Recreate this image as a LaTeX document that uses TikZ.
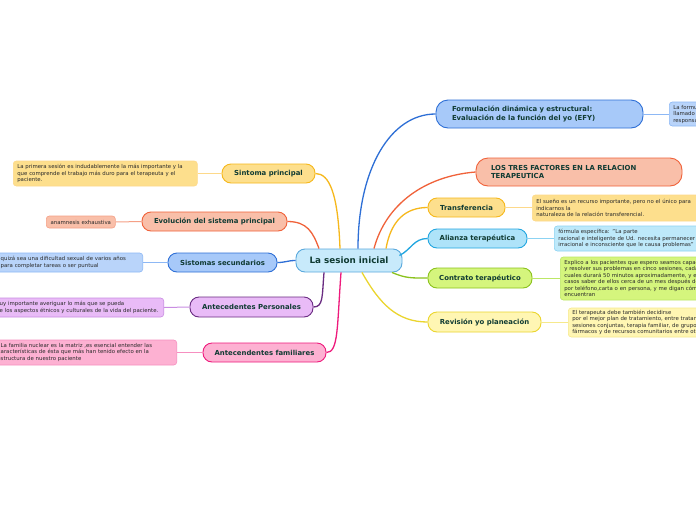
\documentclass[tikz,border=0pt]{standalone}
\usepackage{fontspec}
\setmainfont{DejaVu Sans}
\definecolor{txt}{HTML}{103B33}
\definecolor{ntxt}{HTML}{2A2A2A}
\definecolor{cenF}{HTML}{C8EAFB}\definecolor{cenD}{HTML}{5AA9DD}
\definecolor{bluF}{HTML}{A7C9F9}\definecolor{bluD}{HTML}{2E6FD6}\definecolor{bluL}{HTML}{8DB8F5}
\definecolor{redF}{HTML}{F9BFA9}\definecolor{redD}{HTML}{F0623A}\definecolor{redL}{HTML}{F5A086}
\definecolor{yelF}{HTML}{FDDF8D}\definecolor{yelD}{HTML}{F6B81C}\definecolor{yelL}{HTML}{FDD98A}
\definecolor{ltbF}{HTML}{AEE3F9}\definecolor{ltbD}{HTML}{22A6E0}\definecolor{ltbL}{HTML}{8CD3F3}
\definecolor{grnF}{HTML}{D5F57D}\definecolor{grnD}{HTML}{8BC21C}\definecolor{grnL}{HTML}{BCE766}
\definecolor{pyeF}{HTML}{FFF6B3}\definecolor{pyeD}{HTML}{EBD52E}\definecolor{pyeL}{HTML}{F6E98C}
\definecolor{purF}{HTML}{E9BBF7}\definecolor{purD}{HTML}{6A2C82}\definecolor{purL}{HTML}{C98DE2}
\definecolor{pnkF}{HTML}{FDB1D2}\definecolor{pnkD}{HTML}{EE1A7C}\definecolor{pnkL}{HTML}{F68FC0}
\newcommand{\hid}[1]{\leavevmode\llap{#1}}
\tikzset{
  mainnode/.style={draw, rounded corners=9pt, line width=0.9pt, font=\fontsize{6.9}{8.2}\selectfont\bfseries, text=txt, inner sep=0pt, minimum height=19pt, align=center},
  notenode/.style={draw, rounded corners=3pt, line width=0.6pt, font=\fontsize{5.4}{6.5}\selectfont, text=ntxt, align=left, inner xsep=4pt, inner ysep=1.5pt},
  conn/.style={line width=1.3pt},
  nconn/.style={line width=1pt},
}
\begin{document}
\begin{tikzpicture}[x=1pt,y=-1pt]
\useasboundingbox (0,0) rectangle (696,520);
\clip (0,0) rectangle (696,520);
\fill[white] (0,0) rectangle (696,520);

% center
\node[mainnode, fill=cenF, draw=cenD, minimum width=106pt, minimum height=23pt, font=\fontsize{8.8}{10}\selectfont\bfseries] (c) at (349,260.5) {La sesion inicial};

% left main nodes
\node[mainnode, fill=yelF, draw=yelD, minimum width=93pt] (si) at (268.5,173.5) {Sintoma principal};
\node[mainnode, fill=redF, draw=redD, minimum width=145pt] (ev) at (214.5,221.5) {Evolución del sistema principal};
\node[mainnode, fill=bluF, draw=bluD, minimum width=109pt] (se) at (222.5,262.5) {Sistomas secundarios};
\node[mainnode, fill=purF, draw=purD, minimum width=123pt, minimum height=20pt] (ap) at (251.5,307) {Antecedentes Personales};
\node[mainnode, fill=pnkF, draw=pnkD, minimum width=123pt] (af) at (264.5,352.5) {Antecendentes familiares};

% right main nodes
\node[mainnode, fill=bluF, draw=bluD, minimum height=28pt, inner xsep=16pt, text width=175pt, align=left, rounded corners=12pt] (fo) at (539.5,114) {Formulación dinámica y estructural:\\Evaluación de la función del yo (EFY)};
\node[mainnode, fill=redF, draw=redD, minimum height=28pt, inner xsep=15pt, text width=176pt, align=left, rounded corners=12pt] (lt) at (579,172) {LOS TRES FACTORES EN LA RELACION\\TERAPEUTICA};
\node[mainnode, fill=yelF, draw=yelD, minimum width=77pt] (tr) at (466.5,207.5) {Transferencia};
\node[mainnode, fill=ltbF, draw=ltbD, minimum width=99pt] (al) at (477.5,238.5) {Alianza terapéutica};
\node[mainnode, fill=grnF, draw=grnD, minimum width=104pt, minimum height=20pt] (co) at (480,278) {Contrato terapéutico};
\node[mainnode, fill=pyeF, draw=pyeD, minimum width=113pt, minimum height=20pt] (re) at (484.5,322) {Revisión yo planeación};

% left notes
\node[notenode, fill=yelF, draw=yelL, anchor=west, text width=176pt, minimum height=25pt] (nsi) at (13,173.5) {La primera sesión es indudablemente la más importante y la\\que comprende el trabajo más duro para el terapeuta y el\\paciente.};
\node[notenode, fill=redF, draw=redL, anchor=west, text width=61pt, minimum height=12pt, align=center] (nev) at (46,222) {anamnesis exhaustiva};
\node[notenode, fill=bluF!80!white, draw=bluL, anchor=east, text width=138pt, minimum height=19pt] (nse) at (143,262.5) {quizá sea una dificultad sexual de varios años\\para completar tareas o ser puntual};
\node[notenode, fill=purF, draw=purL, anchor=east, text width=160pt, minimum height=19pt] (nap) at (164,307.5) {\hid{M}uy importante averiguar lo más que se pueda\\\hid{d}e los aspectos étnicos y culturales de la vida del paciente.};
\node[notenode, fill=pnkF, draw=pnkL, anchor=east, text width=172pt, minimum height=25pt] (naf) at (177,352.5) {La familia nuclear es la matriz ,es esencial entender las\\\hid{c}aracterísticas de ésta que más han tenido efecto en la\\\hid{e}structura de nuestro paciente};

% right notes
\node[notenode, fill=bluF!80!white, draw=bluL, anchor=west, text width=60pt, minimum height=24pt] (nfo) at (669,114) {La formulación\\llamado\\responsable};
\node[notenode, fill=yelF, draw=yelL, anchor=west, text width=190pt, minimum height=26pt] (ntr) at (532,208) {El sueño es un recurso importante, pero no el único para\\indicarnos la\\naturaleza de la relación transferencial.};
\node[notenode, fill=ltbF!80!white, draw=ltbL, anchor=west, text width=190pt, minimum height=25pt] (nal) at (554,238.5) {fórmula específica: "La parte\\ racional e inteligente de Ud. necesita permanecer\\irracional e inconsciente que le causa problemas"};
\node[notenode, fill=grnF, draw=grnL, anchor=west, text width=190pt, minimum height=43pt] (nco) at (560,278.5) {Explico a los pacientes que espero seamos capaces\\y resolver sus problemas en cinco sesiones, cada una de las\\cuales durará 50 minutos aproximadamente, y en algunos\\casos saber de ellos cerca de un mes después de\\por teléfono,carta o en persona, y me digan cómo se\\encuentran};
\node[notenode, fill=pyeF, draw=pyeL, anchor=west, text width=190pt, minimum height=29pt] (nre) at (568,322.5) {El terapeuta debe también decidirse\\por el mejor plan de tratamiento, entre tratamientos\\sesiones conjuntas, terapia familiar, de grupo\\fármacos y de recursos comunitarios entre otros};

% main connectors
\draw[conn, bluD] ([xshift=9pt]c.north) .. controls +(0,-80) and +(-45,0) .. (fo.west);
\draw[conn, redD] ([xshift=25pt]c.north) .. controls +(12,-45) and +(-50,4) .. (lt.west);
\draw[conn, yelD] ([xshift=37pt]c.north) .. controls +(5,-28) and +(-22,0) .. (tr.west);
\draw[conn, ltbD] ([xshift=-3pt,yshift=5pt]c.east) .. controls +(12,-6) and +(-14,0) .. (al.west);
\draw[conn, grnD] ([xshift=43pt]c.south) .. controls +(14,6) and +(-16,0) .. (co.west);
\draw[conn, pyeD] ([xshift=13pt]c.south) .. controls +(18,32) and +(-30,0) .. (re.west);

\draw[conn, yelD] ([xshift=-9pt]c.north) .. controls +(-2,-55) and +(14,0) .. (si.east);
\draw[conn, redD] ([xshift=-30pt]c.north) .. controls +(-6,-16) and +(20,0) .. (ev.east);
\draw[conn, bluD] (c.west) .. controls +(-8,0) and +(8,0) .. (se.east);
\draw[conn, purD] ([xshift=-25pt]c.south) .. controls +(-2,24) and +(10,0) .. (ap.east);
\draw[conn, pnkD] ([xshift=-8pt]c.south) .. controls +(-4,55) and +(12,0) .. (af.east);

% note connectors
\draw[nconn, yelL] (si.west) -- (nsi.east);
\draw[nconn, redL] (ev.west) -- (nev.east);
\draw[nconn, bluL] (se.west) -- (nse.east);
\draw[nconn, purL] (ap.west) -- (nap.east);
\draw[nconn, pnkL] (af.west) -- (naf.east);
\draw[nconn, bluL] (fo.east) -- (nfo.west);
\draw[nconn, yelL] (tr.east) -- (ntr.west |- tr.east);
\draw[nconn, ltbL] (al.east) -- (nal.west |- al.east);
\draw[nconn, grnL] (co.east) -- (nco.west |- co.east);
\draw[nconn, pyeL] (re.east) -- (nre.west |- re.east);
\end{tikzpicture}
\end{document}
